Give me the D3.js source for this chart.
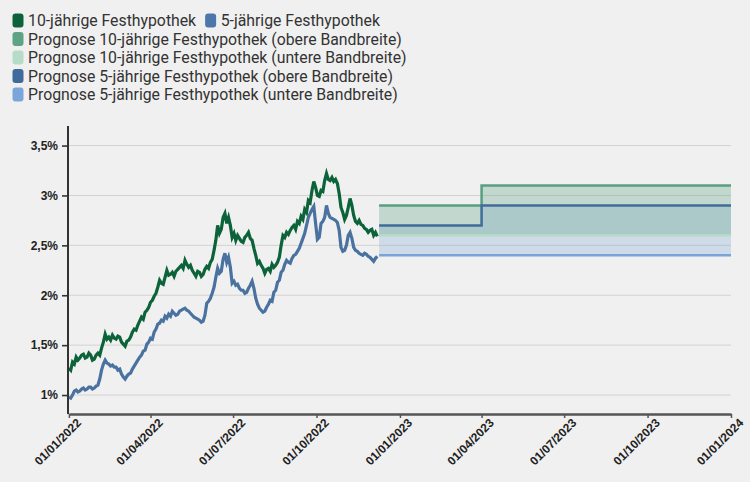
<!DOCTYPE html>
<html>
<head>
<meta charset="utf-8">
<script src="https://cdn.jsdelivr.net/npm/d3@7"></script>
<style>
  html, body { margin: 0; padding: 0; background: #f0f0f0; }
  svg { display: block; }
</style>
</head>
<body>
<svg id="chart" width="750" height="482"></svg>
<script>
// ---------- DATA ----------
const startDate = "2022-01-01";
const dayOffsets = [
  0,2,4,6,8,10,12,14,16,18,
  20,22,24,26,28,30,32,34,36,38,
  40,42,44,46,48,50,52,54,56,58,
  60,62,64,66,68,70,72,74,76,78,
  80,82,84,86,88,90,92,94,96,98,
  100,102,104,106,108,110,112,114,116,118,
  120,122,124,126,128,130,132,134,136,138,
  140,142,144,146,148,150,152,154,156,158,
  160,162,164,166,168,170,172,174,176,178,
  180,182,184,186,188,190,192,194,196,198,
  200,202,204,206,208,210,212,214,216,218,
  220,222,224,226,228,230,232,234,236,238,
  240,242,244,246,248,250,252,254,256,258,
  260,262,264,266,268,270,272,274,276,278,
  280,282,284,286,288,290,292,294,296,298,
  300,302,304,306,308,310,312,314,316,318,
  320,322,324,326,328,330,332,334,336,338,
  340];

const tenYear = [
  1.27,1.25,1.33,1.31,1.38,1.35,1.37,1.40,1.41,1.37,
  1.38,1.42,1.40,1.35,1.36,1.40,1.42,1.40,1.47,1.53,
  1.61,1.56,1.58,1.55,1.60,1.57,1.56,1.59,1.58,1.53,
  1.51,1.49,1.54,1.55,1.58,1.63,1.66,1.65,1.70,1.74,
  1.78,1.76,1.83,1.85,1.88,1.93,1.95,1.99,2.02,2.08,
  2.15,2.12,2.11,2.18,2.25,2.20,2.21,2.23,2.19,2.24,
  2.26,2.28,2.30,2.27,2.35,2.31,2.28,2.30,2.25,2.22,
  2.19,2.24,2.23,2.19,2.21,2.26,2.29,2.27,2.33,2.36,
  2.45,2.55,2.70,2.62,2.66,2.78,2.82,2.72,2.78,2.70,
  2.58,2.62,2.55,2.60,2.57,2.54,2.53,2.58,2.60,2.63,
  2.57,2.55,2.47,2.40,2.32,2.34,2.30,2.27,2.22,2.26,
  2.27,2.24,2.31,2.28,2.30,2.33,2.38,2.50,2.60,2.58,
  2.63,2.61,2.65,2.68,2.70,2.66,2.74,2.72,2.79,2.76,
  2.86,2.83,2.95,2.93,3.05,3.14,3.08,3.00,2.99,3.05,
  3.04,3.15,3.22,3.16,3.15,3.18,3.14,3.16,3.12,3.02,
  2.88,2.83,2.76,2.80,2.88,2.97,2.90,2.80,2.74,2.72,
  2.75,2.71,2.70,2.67,2.66,2.63,2.65,2.66,2.60,2.63,
  2.59];

const fiveYear = [
  0.98,0.97,1.00,1.04,1.05,1.03,1.04,1.06,1.07,1.05,
  1.06,1.08,1.08,1.06,1.07,1.09,1.10,1.16,1.25,1.31,
  1.35,1.32,1.31,1.29,1.30,1.28,1.28,1.25,1.26,1.21,
  1.18,1.16,1.19,1.21,1.22,1.26,1.29,1.32,1.35,1.38,
  1.40,1.44,1.45,1.51,1.53,1.57,1.56,1.63,1.66,1.71,
  1.72,1.75,1.74,1.79,1.77,1.81,1.79,1.84,1.82,1.80,
  1.81,1.84,1.85,1.86,1.87,1.85,1.84,1.82,1.80,1.78,
  1.77,1.76,1.75,1.73,1.74,1.80,1.92,1.94,1.97,2.02,
  2.08,2.18,2.27,2.22,2.24,2.36,2.42,2.33,2.38,2.28,
  2.12,2.14,2.10,2.11,2.07,2.05,2.05,2.02,2.03,2.07,
  2.10,2.14,2.07,1.97,1.91,1.87,1.85,1.83,1.84,1.88,
  1.91,1.95,1.94,2.03,2.05,2.13,2.15,2.23,2.25,2.31,
  2.35,2.33,2.32,2.37,2.40,2.41,2.44,2.47,2.52,2.57,
  2.62,2.70,2.78,2.82,2.86,2.89,2.72,2.56,2.58,2.72,
  2.74,2.78,2.90,2.82,2.78,2.77,2.76,2.75,2.73,2.65,
  2.48,2.44,2.45,2.50,2.60,2.63,2.57,2.48,2.45,2.44,
  2.42,2.41,2.40,2.42,2.41,2.39,2.38,2.36,2.34,2.37,
  2.39];

const forecastDates = ["2022-12-09", "2023-04-01", "2024-01-01"];
const tenUpper  = [2.9, 3.1, 3.1];
const tenLower  = [2.6, 2.6, 2.6];
const fiveUpper = [2.7, 2.9, 2.9];
const fiveLower = [2.4, 2.4, 2.4];

const xTickDates = ["2022-01-01","2022-04-01","2022-07-01","2022-10-01","2023-01-01","2023-04-01","2023-07-01","2023-10-01","2024-01-01"];
const yTicks = [1, 1.5, 2, 2.5, 3, 3.5];

const legendLabels = [
  "10-jährige Festhypothek",
  "5-jährige Festhypothek",
  "Prognose 10-jährige Festhypothek (obere Bandbreite)",
  "Prognose 10-jährige Festhypothek (untere Bandbreite)",
  "Prognose 5-jährige Festhypothek (obere Bandbreite)",
  "Prognose 5-jährige Festhypothek (untere Bandbreite)"
];

// ---------- STYLE ----------
const C = {
  ten: "#0c6339",
  five: "#4a72a1",
  tenUp: "#5a9e80",
  tenLo: "#b4dbc6",
  fiveUp: "#416b9a",
  fiveLo: "#79a4d8"
};
const legendColors = [C.ten, "#4c77ab", "#5ea384", "#b4dcc7", "#3f6a9c", "#7aa6db"];

const parse = d3.timeParse("%Y-%m-%d");
const t0 = parse(startDate);

const svg = d3.select("#chart");
const x = d3.scaleTime().domain([parse("2022-01-01"), parse("2024-01-01")]).range([68.9, 731]);
const y = d3.scaleLinear().domain([0.81, 3.7]).range([414, 125.6]);

const hist10 = dayOffsets.map((d, i) => ({ date: d3.timeDay.offset(t0, d), v: tenYear[i] }));
const hist5 = dayOffsets.map((d, i) => ({ date: d3.timeDay.offset(t0, d), v: fiveYear[i] }));
const fc = forecastDates.map((d, i) => ({
  date: parse(d), tu: tenUpper[i], tl: tenLower[i], fu: fiveUpper[i], fl: fiveLower[i]
}));

// grid
svg.append("g").selectAll("line").data(yTicks).join("line")
  .attr("x1", 68).attr("x2", 731)
  .attr("y1", d => y(d)).attr("y2", d => y(d))
  .attr("stroke", "#d2d2d2").attr("stroke-width", 1);

// forecast areas
const area = (hi, lo) => d3.area().curve(d3.curveStepAfter)
  .x(d => x(d.date)).y0(d => y(d[lo])).y1(d => y(d[hi]));
svg.append("path").attr("d", area("fu", "fl")(fc))
  .attr("fill", C.fiveLo).attr("fill-opacity", 0.27);
svg.append("path").attr("d", area("tu", "tl")(fc))
  .attr("fill", C.tenUp).attr("fill-opacity", 0.3);

// forecast lines
const stepLine = key => d3.line().curve(d3.curveStepAfter).x(d => x(d.date)).y(d => y(d[key]));
[["tl", C.tenLo], ["fl", C.fiveLo], ["tu", C.tenUp], ["fu", C.fiveUp]].forEach(([k, col]) => {
  svg.append("path").attr("d", stepLine(k)(fc))
    .attr("fill", "none").attr("stroke", col).attr("stroke-width", 2.5);
});

// historical lines
const line = d3.line().x(d => x(d.date)).y(d => y(d.v));
svg.append("path").attr("d", line(hist5)).attr("fill", "none")
  .attr("stroke", C.five).attr("stroke-width", 3.2).attr("stroke-linejoin", "miter");
svg.append("path").attr("d", line(hist10)).attr("fill", "none")
  .attr("stroke", C.ten).attr("stroke-width", 3.2).attr("stroke-linejoin", "miter");

// axes
const fmtY = d => String(d).replace(".", ",") + "%";
const yAxis = svg.append("g").attr("transform", "translate(68,0)")
  .call(d3.axisLeft(y).tickValues(yTicks).tickFormat(fmtY).tickSize(6).tickPadding(4));
yAxis.select(".domain").attr("stroke", "#333").attr("stroke-width", 2).attr("d", "M0,126V414");
yAxis.selectAll(".tick line").attr("stroke", "#333").attr("stroke-width", 1.6);
yAxis.selectAll("text").attr("font-family", "'Liberation Sans', Arial, sans-serif")
  .attr("font-weight", "bold").attr("font-size", 12).attr("fill", "#222");

const fmtX = d3.timeFormat("%d/%m/%Y");
const xAxis = svg.append("g").attr("transform", "translate(0,414)")
  .call(d3.axisBottom(x).tickValues(xTickDates.map(parse)).tickFormat(fmtX).tickSize(4).tickSizeOuter(0));
xAxis.select(".domain").attr("stroke", "#555").attr("stroke-width", 2.5);
xAxis.selectAll(".tick line").attr("stroke", "#555").attr("stroke-width", 1.5);
xAxis.selectAll("text")
  .attr("font-family", "'Liberation Sans', Arial, sans-serif")
  .attr("font-weight", "bold").attr("font-size", 12).attr("fill", "#222")
  .attr("text-anchor", "end")
  .attr("transform", "translate(4,1) rotate(-45)")
  .attr("x", 0).attr("y", 8).attr("dy", "0.35em");

// legend
const lg = svg.append("g").attr("font-family", "Roboto, 'Noto Sans', sans-serif")
  .attr("font-size", 15.8).attr("fill", "#333");
const rows = [[0, 1], [2], [3], [4], [5]];
const baselines = [26, 44.5, 63, 81.5, 100];
rows.forEach((row, r) => {
  let cx = 12.5;
  row.forEach(idx => {
    lg.append("rect").attr("x", cx).attr("y", baselines[r] - 12.5)
      .attr("width", 11).attr("height", 14).attr("rx", 3)
      .attr("fill", legendColors[idx]);
    const t = lg.append("text").attr("x", cx + 15.5).attr("y", baselines[r]).text(legendLabels[idx]);
    cx = cx + 15.5 + t.node().getComputedTextLength() + 9;
  });
});
</script>
</body>
</html>
